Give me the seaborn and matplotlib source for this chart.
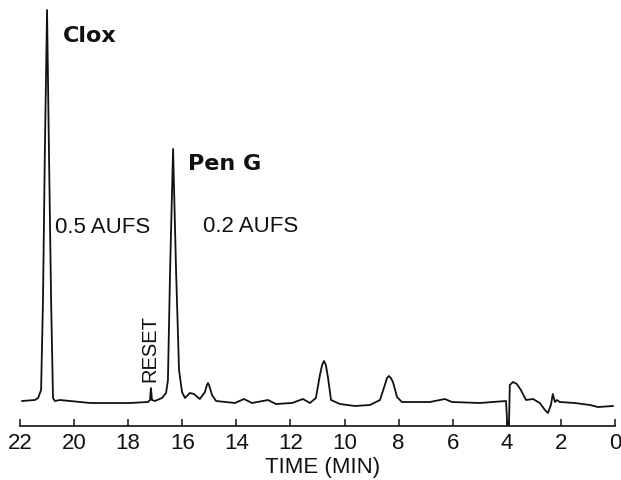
import matplotlib
matplotlib.use('Agg')
import matplotlib.pyplot as plt
import seaborn as sns
import pandas as pd

# Chromatogram trace (time in min, detector signal in arbitrary units)
time_min = [21.93, 21.45, 21.33, 21.22, 21.15, 21.08, 21.00, 20.93, 20.85, 20.78,
            20.71, 20.52, 20.15, 19.41, 17.93, 17.27, 17.19, 17.16, 17.12, 17.01,
            16.75, 16.60, 16.53, 16.45, 16.34, 16.23, 16.12, 16.01, 15.90, 15.72,
            15.57, 15.35, 15.16, 15.10, 15.05, 15.00, 14.90, 14.75, 14.05, 13.72,
            13.42, 12.83, 12.54, 11.94, 11.54, 11.28, 11.06, 10.91, 10.83, 10.76,
            10.69, 10.61, 10.50, 10.17, 9.62, 9.06, 8.69, 8.51, 8.43, 8.36,
            8.29, 8.21, 8.06, 7.88, 6.84, 6.29, 6.03, 5.00, 4.03, 3.98,
            3.92, 3.89, 3.77, 3.63, 3.48, 3.29, 3.03, 2.78, 2.59, 2.48,
            2.37, 2.30, 2.22, 2.15, 2.04, 1.48, 0.93, 0.63, 0.07]
signal = [25, 26, 28, 36, 126, 276, 416, 276, 126, 28,
          25, 26, 25, 23, 23, 24, 26, 38, 26, 25,
          28, 33, 46, 156, 277, 156, 56, 34, 28, 33,
          32, 27, 34, 40, 43, 40, 31, 25, 23, 27,
          23, 26, 22, 23, 27, 23, 28, 51, 61, 65,
          61, 48, 26, 22, 20, 21, 26, 41, 48, 50,
          48, 44, 29, 24, 24, 27, 24, 23, 25, 1,
          1, 41, 44, 42, 36, 26, 27, 23, 16, 13,
          21, 32, 24, 26, 24, 23, 21, 19, 20]

x_ticks = [22, 20, 18, 16, 14, 12, 10, 8, 6, 4, 2, 0]

# annotations: (text, time, signal, bold)
peak_labels = [('Clox', 20.41, 384, True),
               ('Pen G', 15.79, 256, True),
               ('0.5 AUFS', 20.71, 193, False),
               ('0.2 AUFS', 15.23, 194, False)]

df = pd.DataFrame({'time': time_min, 'signal': signal})

sns.set_style('white')
plt.rcParams['font.family'] = ['Liberation Sans', 'DejaVu Sans']

fig = plt.figure(figsize=(6.21, 4.80), dpi=100)
ax = fig.add_axes([20 / 621, 54 / 480, 595 / 621, 426 / 480])

sns.lineplot(data=df, x='time', y='signal', sort=False, estimator=None,
             color='#111111', linewidth=1.3, ax=ax)

for text, t, s, bold in peak_labels:
    if bold:
        ax.text(t, s, text, fontsize=16, ha='left', va='baseline', fontweight='bold',
                family=['DejaVu Sans'], color='#111111')
    else:
        ax.text(t, s, text, fontsize=16, ha='left', va='baseline', color='#111111')

ax.text(17.21, 44, 'RESET', rotation=90, fontsize=14.5, ha='center', va='bottom',
        color='#111111')

ax.set_xlim(22, 0)
ax.set_ylim(0, 426)
ax.set_xticks(x_ticks)
ax.set_xticklabels([str(v) for v in x_ticks])
ax.set_yticks([])
ax.set_ylabel('')
ax.set_xlabel('TIME (MIN)', fontsize=16, color='#111111')
ax.xaxis.set_label_coords(0.508, -0.072)

for side in ['left', 'top', 'right']:
    ax.spines[side].set_visible(False)
ax.spines['bottom'].set_color('#111111')
ax.spines['bottom'].set_linewidth(1.2)
ax.tick_params(axis='x', direction='in', length=5, width=1.1, pad=5,
               labelsize=16, colors='#111111', bottom=True)

fig.savefig('out.png', dpi=100)
